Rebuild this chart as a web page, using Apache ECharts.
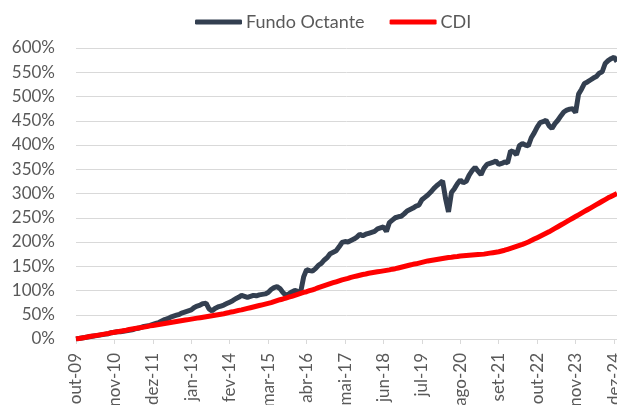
<!DOCTYPE html>
<html>
<head>
<meta charset="utf-8">
<script src="https://cdn.jsdelivr.net/npm/echarts@6/dist/echarts.min.js"></script>
<style>
  html, body { margin: 0; padding: 0; background: #fff; }
  #chart { width: 617px; height: 405px; }
</style>
</head>
<body>
<div id="chart"></div>
<script>
// meses em português, série mensal de out-09 a jan-25
var monthNames = ["jan", "fev", "mar", "abr", "mai", "jun", "jul", "ago", "set", "out", "nov", "dez"];
var startYear = 2009, startMonth = 9, nMonths = 184;

var fundoOctante = [
  0, 1, 2, 3, 4, 5, 6, 7, 8, 9, 10, 11, 13, 14, 15, 15, 16, 17, 18, 19,
  21, 22, 24, 26, 27, 28, 30, 32, 34, 37, 40, 42, 45, 47, 49, 51, 54, 56, 58, 60,
  65, 68, 70, 73, 74, 62, 58, 63, 66, 68, 70, 73, 76, 79, 83, 86, 90, 88, 86, 88,
  90, 89, 91, 92, 93, 96, 102, 106, 108, 104, 96, 90, 93, 97, 100, 98, 97, 128, 143, 141,
  140, 145, 152, 156, 163, 168, 176, 179, 182, 190, 199, 201, 200, 203, 206, 210, 216, 213, 216, 218,
  220, 222, 227, 229, 231, 222, 240, 245, 250, 252, 253, 258, 264, 267, 270, 274, 276, 287, 292, 297,
  303, 310, 316, 321, 326, 290, 262, 302, 310, 320, 328, 322, 325, 338, 347, 354, 346, 339, 352, 360,
  362, 364, 367, 360, 362, 365, 363, 388, 386, 380, 399, 403, 400, 398, 415, 425, 437, 446, 448, 451,
  440, 434, 444, 451, 460, 468, 472, 474, 475, 467, 505, 515, 527, 530, 534, 538, 541, 548, 551, 568,
  574, 578, 581, 572
];

var cdi = [
  0, 1, 2, 3, 4.5, 5.5, 6.5, 7.5, 8.5, 9.5, 10.5, 11.5, 13, 14, 15, 16, 17, 18, 19.5, 20.5,
  21.5, 22.5, 23.5, 24.5, 25.5, 27, 28, 29, 30, 31, 32, 33, 34, 35, 36, 37, 38, 39, 40, 41,
  42, 43, 44, 45, 46, 47, 48, 49, 50, 51, 52, 53.5, 55, 56, 57.5, 59, 60, 61.5, 63, 64.5,
  66, 67.5, 69, 70.5, 72, 73.5, 75, 77, 79, 81, 82.5, 84.5, 86.5, 88, 90, 92, 94, 96, 97.5, 99.5,
  101.5, 103.5, 106, 108, 110, 112, 114, 116, 118, 120, 122, 123.5, 125, 127, 128.5, 130, 131.5, 133, 134, 135.5,
  136.5, 137.5, 138.5, 139.5, 140.5, 141.5, 142.5, 144, 145, 146.5, 148, 149.5, 151, 152.5, 154, 155, 156.5, 158, 159.5, 161,
  162, 163, 164, 165, 166, 167, 168, 168.5, 169.5, 170, 171, 171.5, 172, 172.5, 173, 173.5, 174, 174.5, 175, 176,
  177, 178, 179, 180, 181.5, 183, 185, 187, 189, 191, 193, 195, 197.5, 200, 203, 206, 209, 212, 215, 218,
  221, 224.5, 228, 231.5, 235, 238.5, 242, 245.5, 249, 252.5, 256, 259.5, 263, 266.5, 270, 273.5, 277, 280.5, 284, 287.5,
  291, 294, 297, 300
];

var categories = [];
for (var i = 0; i < nMonths; i++) {
  var m = (startMonth + i) % 12;
  var y = startYear + Math.floor((startMonth + i) / 12);
  categories.push(monthNames[m] + "-" + String(y).slice(2));
}

var txt = "#595959";
var myChart = echarts.init(document.getElementById("chart"));
myChart.setOption({
  animation: false,
  textStyle: { fontFamily: "Lato" },
  legend: {
    top: 8,
    left: 190,
    itemWidth: 47,
    itemHeight: 5,
    itemGap: 25,
    icon: "roundRect",
    textStyle: { color: txt, fontSize: 18, padding: [0, 0, 0, -1] },
    data: ["Fundo Octante", "CDI"]
  },
  grid: {
    left: 76,
    right: 0,
    top: 48,
    bottom: 66,
    outerBoundsMode: "none",
    containLabel: false
  },
  xAxis: {
    type: "category",
    boundaryGap: false,
    data: categories,
    axisLine: { lineStyle: { color: "#d9d9d9", width: 1 } },
    axisTick: { interval: 12, length: 5, lineStyle: { color: "#d9d9d9" } },
    axisLabel: {
      interval: 12,
      rotate: 90,
      margin: 14,
      color: txt,
      fontSize: 17,
      hideOverlap: false
    },
    splitLine: { show: false }
  },
  yAxis: {
    type: "value",
    min: 0,
    max: 600,
    interval: 50,
    axisLine: { show: false },
    axisTick: { show: false },
    axisLabel: {
      formatter: "{value}%",
      color: txt,
      fontSize: 17,
      margin: 21
    },
    splitLine: { lineStyle: { color: "#d9d9d9", width: 1 } }
  },
  series: [
    {
      name: "Fundo Octante",
      type: "line",
      data: fundoOctante,
      showSymbol: false,
      lineStyle: { color: "#333f50", width: 5 },
      itemStyle: { color: "#333f50" }
    },
    {
      name: "CDI",
      type: "line",
      data: cdi,
      showSymbol: false,
      lineStyle: { color: "#ff0000", width: 5 },
      itemStyle: { color: "#ff0000" }
    }
  ]
});
window.addEventListener("resize", function() {
  myChart.resize();
});
</script>
</body>
</html>
